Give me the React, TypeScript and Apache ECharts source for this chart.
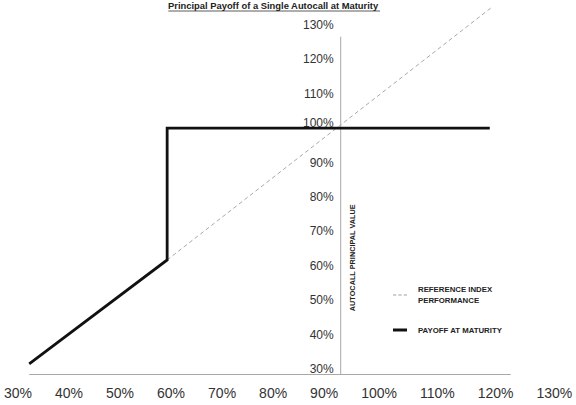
import React, { useEffect, useRef } from "react";
import * as echarts from "echarts";

const titleText = "Principal Payoff of a Single Autocall at Maturity";
const yAxisTitle = "AUTOCALL PRINCIPAL VALUE";
const referenceName = "REFERENCE INDEX\nPERFORMANCE";
const payoffName = "PAYOFF AT MATURITY";

const xTickLabels = ["30%", "40%", "50%", "60%", "70%", "80%", "90%", "100%", "110%", "120%", "130%"];

// payoff at maturity (x = index level %, y = principal %)
const payoffX = [30, 61, 61, 133.5];
const payoffY = [31.5, 61.7, 100, 100];

// reference index performance (dashed)
const referenceX = [61, 133.7];
const referenceY = [61.7, 134.9];

// axis frame lines (in data units)
const baseLineX = [30, 138.2];
const baseLineY = [28.4, 28.4];
const crossLineX = [100, 100];
const crossLineY = [28.4, 126.6];

const X_MIN = 30;
const X_MAX = 140;
const Y_MIN = 30;
const Y_MAX = 130;
const Y_CROSS = 100;

const FONT = "'Liberation Sans', Arial, Helvetica, sans-serif";
const W = 576;
const H = 405;

const zip = (xs: number[], ys: number[]) => xs.map((x, i) => [x, ys[i]]);

export default function App() {
  const ref = useRef<HTMLDivElement>(null);

  useEffect(() => {
    document.body.style.margin = "0";
    if (!ref.current) return;
    const chart = echarts.init(ref.current, undefined, { renderer: "svg" });

    const gridLeft = 29.2;
    const gridRight = 57.3;
    const gridWidth = W - gridLeft - gridRight;
    const yOffset = -((Y_CROSS - X_MIN) / (X_MAX - X_MIN)) * gridWidth;

    chart.setOption({
      animation: false,
      backgroundColor: "#ffffff",
      title: {
        text: titleText,
        left: 168,
        top: 0.5,
        padding: 0,
        textStyle: { fontSize: 9.4, fontWeight: "bold", color: "#222", fontFamily: FONT },
      },
      grid: { left: gridLeft, right: gridRight, top: 25, bottom: 36, containLabel: false },
      legend: {
        orient: "vertical",
        left: 393,
        top: 277.6,
        padding: 0,
        itemGap: 11.8,
        itemWidth: 14,
        itemHeight: 3,
        symbolKeepAspect: true,
        data: [
          {
            name: referenceName,
            icon: "path://M0,0h3v1h-3zM5,0h3v1h-3zM10,0h3v1h-3z",
            itemStyle: { color: "#a0a0a0" },
            textStyle: { padding: [11.6, 0, 0, 6] },
          },
          {
            name: payoffName,
            icon: "rect",
            itemStyle: { color: "#111" },
            textStyle: { padding: [0, 0, 0, 6] },
          },
        ],
        textStyle: { fontSize: 7.8, fontWeight: "bold", color: "#222", lineHeight: 11.6, fontFamily: FONT },
        selectedMode: false,
      },
      xAxis: {
        type: "value",
        min: X_MIN,
        max: X_MAX,
        axisLine: { show: false },
        axisTick: { show: false },
        axisLabel: { show: false },
        splitLine: { show: false },
      },
      yAxis: {
        type: "value",
        min: Y_MIN,
        max: Y_MAX,
        interval: 10,
        position: "left",
        offset: yOffset,
        axisLine: { show: false },
        axisTick: { show: false },
        splitLine: { show: false },
        axisLabel: {
          margin: 7,
          fontSize: 12,
          color: "#333",
          fontFamily: FONT,
          formatter: (v: number) => (v === 100 ? `{shift|${v}%}` : `${v}%`),
          rich: {
            shift: { padding: [0, 0, 11, 0], fontSize: 12, color: "#333", fontFamily: FONT },
          },
        },
      },
      series: [
        {
          name: "baseLine",
          type: "line",
          data: zip(baseLineX, baseLineY),
          symbol: "none",
          silent: true,
          clip: false,
          z: 1,
          lineStyle: { color: "#a8a8a8", width: 1 },
        },
        {
          name: "crossLine",
          type: "line",
          data: zip(crossLineX, crossLineY),
          symbol: "none",
          silent: true,
          clip: false,
          z: 1,
          lineStyle: { color: "#a8a8a8", width: 1 },
        },
        {
          name: referenceName,
          type: "line",
          data: zip(referenceX, referenceY),
          symbol: "none",
          clip: false,
          z: 2,
          itemStyle: { color: "#a8a8a8" },
          lineStyle: { color: "#a8a8a8", width: 1, type: [4, 3] },
        },
        {
          name: payoffName,
          type: "line",
          data: zip(payoffX, payoffY),
          symbol: "none",
          clip: false,
          z: 3,
          itemStyle: { color: "#111" },
          lineStyle: { color: "#111", width: 2.8, join: "miter", cap: "butt" },
        },
      ],
      graphic: [
        {
          type: "line",
          shape: { x1: 168.3, y1: 11, x2: 380, y2: 11 },
          style: { stroke: "#333", lineWidth: 0.8 },
        },
        {
          type: "text",
          x: 352.7,
          y: 257.8,
          rotation: Math.PI / 2,
          style: {
            text: yAxisTitle,
            fontSize: 7.3,
            fontWeight: "bold",
            fontFamily: FONT,
            fill: "#222",
            align: "center",
            verticalAlign: "middle",
          },
        },
        {
          type: "text",
          x: 4,
          y: 393,
          style: {
            text: xTickLabels.map((l) => `{t|${l}}`).join(""),
            rich: {
              t: { padding: [0, 23, 0, 0], fontSize: 14, fontFamily: FONT, fill: "#333" },
            },
            fontSize: 14,
            fontFamily: FONT,
            fill: "#333",
            align: "left",
            verticalAlign: "middle",
          },
        },
      ],
    });

    return () => chart.dispose();
  }, []);

  return <div ref={ref} style={{ width: W, height: H }} />;
}
